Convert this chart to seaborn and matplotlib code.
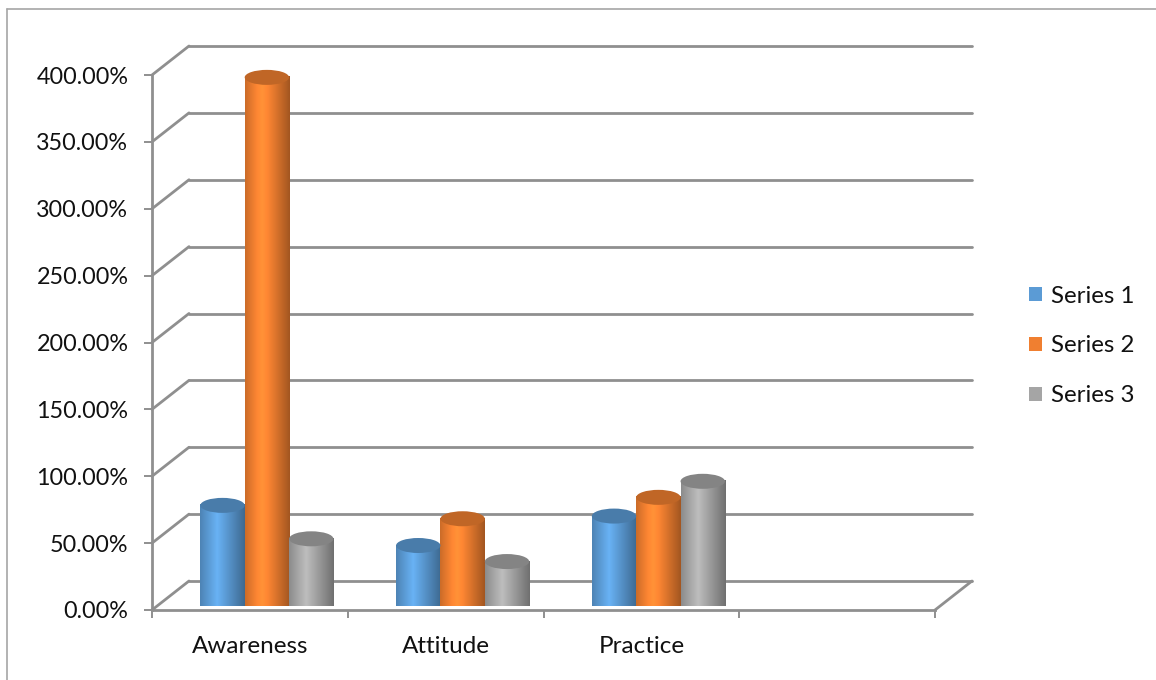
import numpy as np
import pandas as pd
import seaborn as sns
import matplotlib.pyplot as plt
from matplotlib import transforms
from matplotlib.path import Path
from matplotlib.patches import PathPatch, Ellipse, Patch
from matplotlib.lines import Line2D
from matplotlib.colors import to_rgb
from matplotlib.ticker import PercentFormatter

# values (fractions, shown as percent)
categories = ['Awareness', 'Attitude', 'Practice']
series = ['Series 1', 'Series 2', 'Series 3']
series1 = [0.70, 0.40, 0.62]
series2 = [3.90, 0.60, 0.76]
series3 = [0.45, 0.28, 0.88]
colors = ['#5B9BD5', '#F07F30', '#A5A5A5']

df = pd.DataFrame({
    'Category': categories * 3,
    'Series': np.repeat(series, len(categories)),
    'Value': series1 + series2 + series3,
})

sns.set_style('ticks')
plt.rcParams['font.family'] = ['Lato', 'DejaVu Sans']
grid_col = '#8f8f8f'
text_col = '#111111'

W, H = 1156, 680
fig = plt.figure(figsize=(W / 100, H / 100), dpi=100)
ax = fig.add_axes([152 / W, 70 / H, 783 / W, 535 / H])

order = categories + [' ']  # empty fourth slot like the original
sns.barplot(data=df, x='Category', y='Value', hue='Series', order=order,
            hue_order=series, palette=colors, width=0.68, saturation=1,
            legend=False, ax=ax)

# pixel -> data scale for the pseudo 3d depth
px_x = 783 / 4
px_y = 535 / 4
DX, DY = 37 / px_x, 29 / px_y
eh = 15 / px_y

# cylinders stand half way into the floor
bar_tr = ax.transData + transforms.ScaledTranslation(17 / 100, 11 / 100, fig.dpi_scale_trans)

# turn flat bars into shaded cylinders
prof_t = [0, 0.38, 1]
prof_f = [0.85, 1.15, 0.68]
for patch in list(ax.patches):
    x0, w, h = patch.get_x(), patch.get_width(), patch.get_height()
    if not np.isfinite(h) or h == 0:
        continue
    base = np.array(to_rgb(patch.get_facecolor()))
    patch.set_visible(False)
    xc = x0 + w / 2
    th = np.linspace(np.pi, 2 * np.pi, 40)
    arc = np.column_stack([xc + w / 2 * np.cos(th), eh / 2 * np.sin(th)])
    verts = np.vstack([[x0, h], [x0, 0], arc, [x0 + w, h], [x0, h]])
    codes = [Path.MOVETO] + [Path.LINETO] * (len(verts) - 2) + [Path.CLOSEPOLY]
    clip = PathPatch(Path(verts, codes), transform=bar_tr, facecolor='none',
                     edgecolor='none')
    ax.add_patch(clip)
    t = np.linspace(0, 1, 64)
    f = np.interp(t, prof_t, prof_f)
    row = np.clip(base[None, :] * f[:, None], 0, 1)
    img = np.stack([row, row])
    im = ax.imshow(img, extent=(x0, x0 + w, -eh / 2, h), aspect='auto',
                   interpolation='bilinear', zorder=2)
    im.set_transform(bar_tr)
    im.set_clip_path(clip)
    im.set_clip_on(False)
    ax.add_patch(Ellipse((xc, h), w, eh, transform=bar_tr,
                         facecolor=np.clip(base * 0.8, 0, 1), edgecolor='none',
                         zorder=3, clip_on=False))

# back wall and side wall gridlines
yt = np.arange(0, 4.01, 0.5)
for v in yt:
    ax.plot([-0.5, -0.5 + DX], [v, v + DY], color=grid_col, lw=2,
            clip_on=False, zorder=0.5)
    ax.plot([-0.5 + DX, 3.5 + DX], [v + DY, v + DY], color=grid_col, lw=2,
            clip_on=False, zorder=0.5)
ax.plot([3.5, 3.5 + DX], [0, DY], color=grid_col, lw=2, clip_on=False, zorder=0.5)

ax.set_xlim(-0.5, 3.5)
ax.set_ylim(0, 4)
ax.set_xlabel('')
ax.set_ylabel('')
sns.despine(ax=ax)
for s in ['left', 'bottom']:
    ax.spines[s].set_color(grid_col)
    ax.spines[s].set_linewidth(2)

ax.set_yticks(yt)
ax.yaxis.set_major_formatter(PercentFormatter(1, decimals=2))
ax.tick_params(axis='y', length=6, width=1.4, color=grid_col, pad=11,
               labelsize=16.8, labelcolor=text_col, left=True)
ax.set_xticks(range(4))
ax.set_xticklabels(order)
ax.set_xticks(np.arange(-0.5, 3.6, 1), minor=True)
ax.tick_params(axis='x', which='major', length=0, pad=19, labelsize=17.5,
               labelcolor=text_col)
ax.tick_params(axis='x', which='minor', length=6, width=1.4, color=grid_col,
               bottom=True)

handles = [Patch(facecolor=c, edgecolor='none') for c in colors]
fig.legend(handles, series, loc='center left', bbox_to_anchor=(1029 / W, 1 - 346 / H),
           frameon=False, fontsize=17.3, handlelength=0.55, handleheight=0.55,
           handletextpad=0.35, labelspacing=1.2, borderpad=0, borderaxespad=0,
           labelcolor=text_col)

# thin outer chart border
border = '#a6a6a6'
fig.add_artist(Line2D([7 / W, 7 / W], [0, 1 - 9 / H], transform=fig.transFigure,
                      color=border, lw=1.2))
fig.add_artist(Line2D([7 / W, 1], [1 - 9 / H, 1 - 9 / H], transform=fig.transFigure,
                      color=border, lw=1.2))

fig.savefig('out.png', dpi=100)
